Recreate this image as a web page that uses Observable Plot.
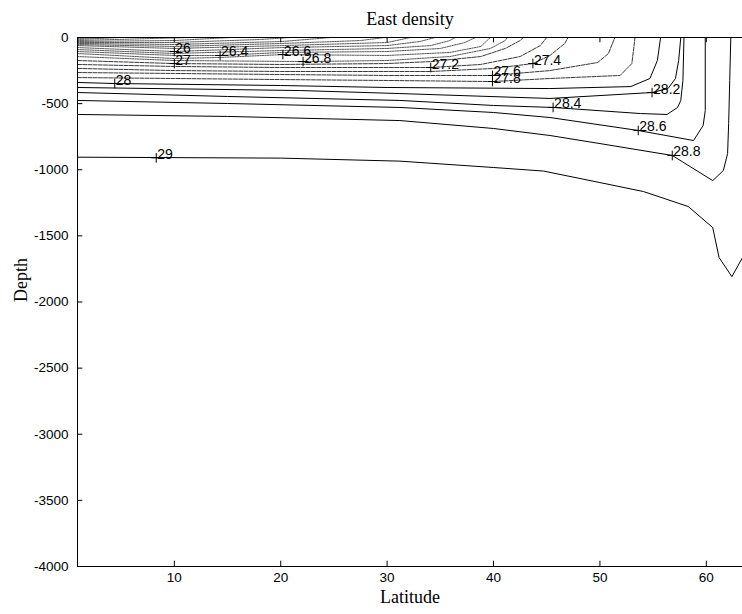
<!DOCTYPE html>
<html>
<head>
<meta charset="utf-8">
<script src="https://cdn.jsdelivr.net/npm/d3@7"></script>
<script src="https://cdn.jsdelivr.net/npm/@observablehq/plot@0.6"></script>
<style>
  html, body { margin: 0; padding: 0; background: #fff; }
  #chart svg { display: block; }
</style>
</head>
<body>
<div id="chart"></div>
<script>
// Contour lines: [latitude, depth] pairs per density level
const c244 = [[0.9,-8],[3.0,0]];
const c246 = [[0.9,-15],[4.9,0]];
const c248 = [[0.9,-23],[7.7,-8],[11.5,0]];
const c250 = [[0.9,-30],[10,-23],[15.3,0]];
const c252 = [[0.9,-38],[10,-38],[18.1,-15],[20.9,0]];
const c254 = [[0.9,-45],[10,-53],[20.2,-30],[24.7,0]];
const c256 = [[0.9,-53],[10,-68],[20.2,-45],[27.5,-23],[29.8,0]];
const c258 = [[0.9,-61],[10,-83],[20.2,-61],[30,-38],[32.2,0]];
const c260 = [[0.9,-76],[10,-106],[20.2,-76],[30,-61],[33.1,-30],[34.5,0]];
const c262 = [[0.9,-91],[10,-121],[20.2,-98],[30,-83],[34.1,-61],[35.9,-23],[36.4,0]];
const c264 = [[0.9,-106],[10,-136],[14.3,-136],[20.2,-113],[30,-106],[35,-83],[37.3,-38],[38.3,0]];
const c266 = [[0.9,-121],[10,-159],[14.3,-151],[20.2,-129],[30,-136],[35.9,-113],[38.8,-68],[39.7,0]];
const c268 = [[0.9,-144],[10,-174],[22.1,-182],[30,-174],[35.9,-144],[39.7,-83],[41.1,-23],[41.3,0]];
const c270 = [[0.9,-174],[10,-197],[20,-204],[30,-197],[34.1,-182],[38.8,-144],[41.1,-83],[42.5,-23],[42.8,0]];
const c272 = [[0.9,-204],[10,-219],[20,-227],[30,-227],[34.1,-227],[38.8,-204],[42.5,-144],[44.4,-61],[45,0]];
const c274 = [[0.9,-234],[10,-250],[20,-257],[30,-257],[34.1,-257],[40,-234],[43.7,-197],[45.3,-136],[46.7,-45],[47,0]];
const c276 = [[0.9,-265],[10,-272],[20,-280],[30,-287],[39.9,-287],[45.3,-250],[49.8,-189],[50.8,-121],[51.4,0]];
const c278 = [[0.9,-303],[10,-310],[20,-318],[30,-325],[39.9,-333],[45.3,-310],[51.9,-287],[53,-197],[53.3,0]];
const c280 = [[0.9,-340],[4.4,-348],[20,-363],[30,-378],[45.3,-386],[52.9,-371],[54.7,-310],[55.4,-174],[55.7,0]];
const c282 = [[0.9,-378],[21.8,-401],[31.2,-424],[45.3,-461],[54.9,-416],[56.4,-386],[57.1,-310],[57.4,-174],[57.6,0]];
const c284 = [[0.9,-416],[15,-446],[31.2,-476],[40,-514],[45.6,-529],[53.8,-575],[56.3,-582],[57.3,-529],[57.6,-476],[57.8,-325],[57.9,0]];
const c286 = [[0.9,-476],[15,-499],[31.2,-529],[40,-567],[45.3,-605],[53.6,-703],[58.8,-779],[59.7,-666],[59.9,-552],[59.9,0]];
const c288 = [[0.9,-582],[15,-597],[31.2,-628],[40,-688],[45.3,-741],[50,-802],[56.8,-892],[60.6,-1082],[61.6,-1006],[62,-877],[62.1,-650],[62.2,-325],[62.3,0]];
const c290 = [[0.9,-905],[20,-912],[31.2,-935],[40,-983],[44.7,-1010],[50,-1097],[54.1,-1165],[58.3,-1278],[60.6,-1437],[61.2,-1664],[62.4,-1808],[63.4,-1664]];

const levels = [24.4,24.6,24.8,25.0,25.2,25.4,25.6,25.8,26.0,26.2,26.4,26.6,26.8,27.0,27.2,27.4,27.6,27.8,28.0,28.2,28.4,28.6,28.8,29.0];
const lines  = [c244,c246,c248,c250,c252,c254,c256,c258,c260,c262,c264,c266,c268,c270,c272,c274,c276,c278,c280,c282,c284,c286,c288,c290];

// Contour labels (text, latitude, depth of the "+" marker)
const labelText  = ["26","26.4","26.6","26.8","27","27.2","27.4","27.6","27.8","28","28.2","28.4","28.6","28.8","29"];
const labelLat   = [10, 14.3, 20.2, 22.1, 10, 34.1, 43.7, 39.9, 39.9, 4.4, 54.9, 45.6, 53.6, 56.8, 8.3];
const labelDepth = [-106, -136, -129, -182, -197, -227, -197, -287, -333, -348, -416, -529, -703, -892, -910];

// Axes
const xTicks = [10, 20, 30, 40, 50, 60];
const yTicks = [0, -500, -1000, -1500, -2000, -2500, -3000, -3500, -4000];
const xDomain = [0.9, 63.4];
const yDomain = [-4000, 0];

const rows = [];
levels.forEach((lv, i) => lines[i].forEach(([lat, depth]) => rows.push({level: lv, lat, depth})));
const labels = labelText.map((t, i) => ({t, lat: labelLat[i], depth: labelDepth[i]}));

const sans = "'Liberation Sans', Arial, Helvetica, sans-serif";
const serif = "'Liberation Serif', 'Times New Roman', serif";

const chart = Plot.plot({
  width: 742,
  height: 614,
  marginLeft: 77,
  marginRight: 0,
  marginTop: 37,
  marginBottom: 48,
  style: {background: "#fff", fontFamily: sans, fontSize: "13px", color: "#000"},
  x: {domain: xDomain, axis: null},
  y: {domain: yDomain, axis: null},
  marks: [
    // contours
    Plot.line(rows.filter(d => d.level < 26.95), {x: "lat", y: "depth", z: "level", stroke: "#444", strokeWidth: 0.9, strokeDasharray: "1.5,1"}),
    Plot.line(rows.filter(d => d.level > 26.95 && d.level < 27.95), {x: "lat", y: "depth", z: "level", stroke: "#222", strokeWidth: 0.9, strokeDasharray: "4,1.2"}),
    Plot.line(rows.filter(d => d.level > 27.95), {x: "lat", y: "depth", z: "level", stroke: "#000", strokeWidth: 1}),
    // contour labels
    Plot.dot(labels, {x: "lat", y: "depth", symbol: "plus", r: 3.2, stroke: "#000", strokeWidth: 1}),
    Plot.text(labels, {x: "lat", y: "depth", text: "t", textAnchor: "start", lineAnchor: "bottom", dx: 1, dy: 1, fontSize: 14, fontFamily: sans, fill: "#000"}),
    // box lines
    Plot.ruleY([yDomain[0], yDomain[1]], {stroke: "#000", strokeWidth: 1}),
    Plot.ruleX([xDomain[0]], {stroke: "#000", strokeWidth: 1}),
    // inward ticks
    Plot.ruleY(yTicks, {x1: xDomain[0], x2: xDomain[0] + 0.5, stroke: "#000"}),
    Plot.ruleX(xTicks, {y1: yDomain[0], y2: yDomain[0] + 40, stroke: "#000"}),
    Plot.ruleX(xTicks, {y1: yDomain[1], y2: yDomain[1] - 40, stroke: "#000"}),
    // tick labels
    Plot.axisY({ticks: yTicks, tickSize: 0, tickPadding: 9, label: null, tickFormat: d => String(d), fontSize: 13.5}),
    Plot.axisX({ticks: xTicks, tickSize: 0, tickPadding: 6, label: null, tickFormat: d => String(d), fontSize: 13.5}),
    // titles
    Plot.text(["East density"], {frameAnchor: "top", dy: -25, fontFamily: serif, fontSize: 18, fill: "#000"}),
    Plot.text(["Latitude"], {frameAnchor: "bottom", dy: 36, fontFamily: serif, fontSize: 18, fill: "#000"}),
    Plot.text(["Depth"], {frameAnchor: "left", dx: -56, rotate: -90, fontFamily: serif, fontSize: 18, fill: "#000"})
  ]
});
document.getElementById("chart").appendChild(chart);
</script>
</body>
</html>
